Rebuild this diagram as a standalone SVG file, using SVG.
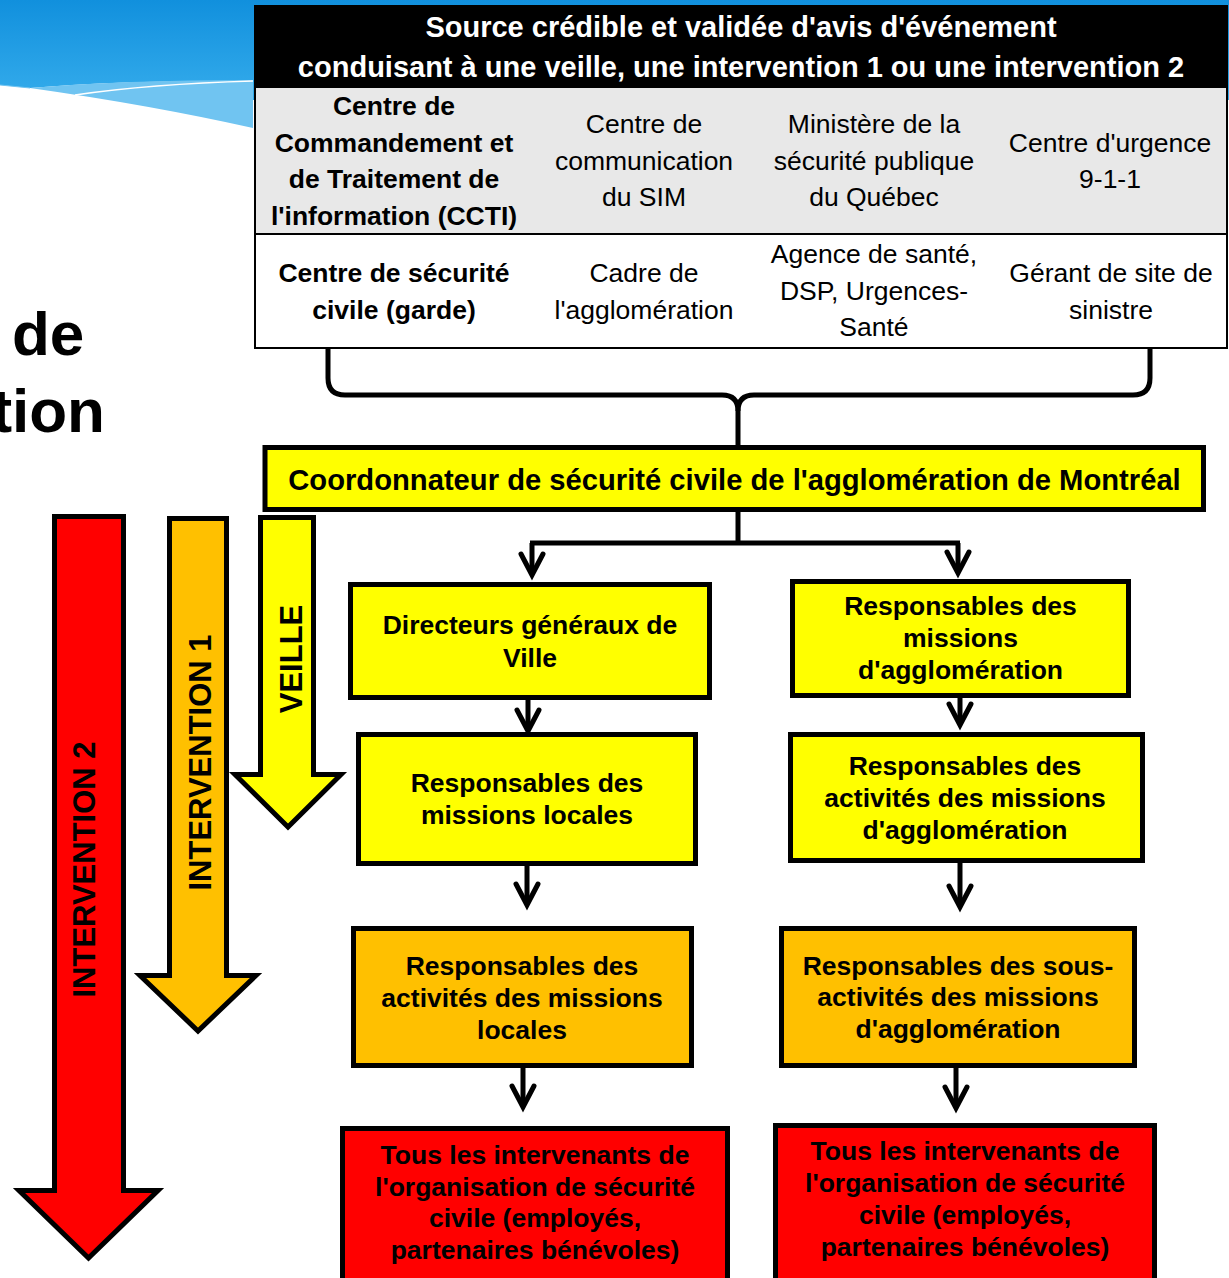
<svg xmlns="http://www.w3.org/2000/svg" width="1229" height="1278" viewBox="0 0 1229 1278">
<defs>
<linearGradient id="bg" x1="0" y1="0" x2="0" y2="90" gradientUnits="userSpaceOnUse">
<stop offset="0" stop-color="#1190dd"/>
<stop offset="1" stop-color="#31a9ea"/>
</linearGradient>
<marker id="chev" markerUnits="userSpaceOnUse" viewBox="-30 -16 40 32" refX="0" refY="0" markerWidth="40" markerHeight="32" orient="auto" overflow="visible">
<path d="M-21,-11 L0,0 L-21,11" fill="none" stroke="#000" stroke-width="5" stroke-linecap="round" stroke-linejoin="miter"/>
</marker>
<style>
text{font-family:"Liberation Sans",Arial,sans-serif;text-anchor:middle;fill:#000}
.hdr{font-size:29px;font-weight:bold;fill:#fff}
.tb{font-size:26.5px;font-weight:bold}
.tr{font-size:26.5px}
.bx{font-size:26.5px;font-weight:bold}
.co{font-size:29.2px;font-weight:bold}
.big{font-size:31px;font-weight:bold}
.ttl{font-size:62px;font-weight:bold}
.box{stroke:#000;stroke-width:5}
.y{fill:#ffff00}
.o{fill:#ffc000}
.r{fill:#ff0000}
.conn{fill:none;stroke:#000;stroke-width:5}
</style>
</defs>

<g id="background">
<path d="M0,0 H1229 V100 H253 V81 Q120,80 30,88 L0,85 Z" fill="url(#bg)"/>
<path d="M30,88 Q120,80 253,80 V128 Q150,105 30,88 Z" fill="#70c4f1"/>
<path d="M0,85 L30,88" stroke="#70c4f1" stroke-width="1"/>
<path d="M75,95 Q150,84 253,81" fill="none" stroke="#fff" stroke-width="1.5"/>
<text class="ttl" x="12" y="355" style="text-anchor:start">de</text>
<text class="ttl" x="105" y="432" style="text-anchor:end">tion</text>
</g>

<g id="sources-table">
<rect x="255" y="6" width="972" height="342" fill="#fff" stroke="#000" stroke-width="2"/>
<rect x="255" y="6" width="972" height="82" fill="#000"/>
<rect x="256" y="88" width="970" height="146" fill="#e8e8e8"/>
<line x1="255" y1="234" x2="1227" y2="234" stroke="#000" stroke-width="2"/>
<text class="hdr" x="741" y="37">Source crédible et validée d'avis d'événement</text>
<text class="hdr" x="741" y="77">conduisant à une veille, une intervention 1 ou une intervention 2</text>
<g id="cell-ccti">
<text class="tb" x="394" y="115">Centre de</text>
<text class="tb" x="394" y="151.5">Commandement et</text>
<text class="tb" x="394" y="188">de Traitement de</text>
<text class="tb" x="394" y="224.5">l'information (CCTI)</text>
</g>
<g id="cell-sim">
<text class="tr" x="644" y="133">Centre de</text>
<text class="tr" x="644" y="169.5">communication</text>
<text class="tr" x="644" y="206">du SIM</text>
</g>
<g id="cell-msp">
<text class="tr" x="874" y="133">Ministère de la</text>
<text class="tr" x="874" y="169.5">sécurité publique</text>
<text class="tr" x="874" y="206">du Québec</text>
</g>
<g id="cell-911">
<text class="tr" x="1110" y="151.5">Centre d'urgence</text>
<text class="tr" x="1110" y="188">9-1-1</text>
</g>
<g id="cell-csc">
<text class="tb" x="394" y="282">Centre de sécurité</text>
<text class="tb" x="394" y="318.5">civile (garde)</text>
</g>
<g id="cell-cadre">
<text class="tr" x="644" y="282">Cadre de</text>
<text class="tr" x="644" y="318.5">l'agglomération</text>
</g>
<g id="cell-agence">
<text class="tr" x="874" y="263">Agence de santé,</text>
<text class="tr" x="874" y="299.5">DSP, Urgences-</text>
<text class="tr" x="874" y="336">Santé</text>
</g>
<g id="cell-gerant">
<text class="tr" x="1111" y="282">Gérant de site de</text>
<text class="tr" x="1111" y="318.5">sinistre</text>
</g>
</g>

<g id="arrow-intervention2">
<polygon class="box r" points="54.5,516.5 123.5,516.5 123.5,1190.5 158,1190.5 88.5,1258 19,1190.5 54.5,1190.5"/>
<text class="big" transform="translate(95,869.5) rotate(-90)">INTERVENTION 2</text>
</g>
<g id="arrow-intervention1">
<polygon class="box o" points="169.5,518.5 226.5,518.5 226.5,975.5 256,975.5 198,1031 140,975.5 169.5,975.5"/>
<text class="big" transform="translate(211,762.5) rotate(-90)">INTERVENTION 1</text>
</g>
<g id="arrow-veille">
<polygon class="box y" points="260.5,517.5 313.5,517.5 313.5,774.5 341,774.5 288,827 235,774.5 260.5,774.5"/>
<text class="big" transform="translate(302,659) rotate(-90)">VEILLE</text>
</g>

<g id="connectors">
<path class="conn" d="M328,347 V378 Q328,395 345,395 H722 Q738,395 738,411 V447"/>
<path class="conn" d="M1150,347 V378 Q1150,395 1133,395 H754 Q738,395 738,411"/>
<path class="conn" d="M738,510 V543"/>
<path class="conn" d="M530,543 H960"/>
<path class="conn" d="M532,543 V575" marker-end="url(#chev)"/>
<path class="conn" d="M958,543 V573" marker-end="url(#chev)"/>
<path class="conn" d="M528,698 V731" marker-end="url(#chev)"/>
<path class="conn" d="M527,864 V905" marker-end="url(#chev)"/>
<path class="conn" d="M523,1066 V1107" marker-end="url(#chev)"/>
<path class="conn" d="M960,696 V725" marker-end="url(#chev)"/>
<path class="conn" d="M960,861 V907" marker-end="url(#chev)"/>
<path class="conn" d="M956,1066 V1108" marker-end="url(#chev)"/>
</g>

<g id="coordonnateur">
<rect class="box y" x="265" y="447.5" width="938.5" height="62"/>
<text class="co" x="734.5" y="490">Coordonnateur de sécurité civile de l'agglomération de Montréal</text>
</g>

<g id="directeurs">
<rect class="box y" x="350.5" y="584.5" width="359" height="113"/>
<text class="bx" x="530" y="634">Directeurs généraux de</text>
<text class="bx" x="530" y="666.5">Ville</text>
</g>
<g id="missions-locales">
<rect class="box y" x="358.5" y="734.5" width="337" height="129"/>
<text class="bx" x="527" y="792">Responsables des</text>
<text class="bx" x="527" y="824">missions locales</text>
</g>
<g id="activites-locales">
<rect class="box o" x="353.5" y="928.5" width="338" height="137"/>
<text class="bx" x="522" y="974.5">Responsables des</text>
<text class="bx" x="522" y="1006.5">activités des missions</text>
<text class="bx" x="522" y="1038.5">locales</text>
</g>
<g id="intervenants-gauche">
<rect class="box r" x="342.5" y="1128.5" width="385" height="170"/>
<text class="bx" x="535" y="1163.5">Tous les intervenants de</text>
<text class="bx" x="535" y="1195.5">l'organisation de sécurité</text>
<text class="bx" x="535" y="1227">civile (employés,</text>
<text class="bx" x="535" y="1259">partenaires bénévoles)</text>
</g>

<g id="missions-agglo">
<rect class="box y" x="792.5" y="581.5" width="336" height="114"/>
<text class="bx" x="960.5" y="615">Responsables des</text>
<text class="bx" x="960.5" y="647">missions</text>
<text class="bx" x="960.5" y="679">d'agglomération</text>
</g>
<g id="activites-agglo">
<rect class="box y" x="790.5" y="734.5" width="352" height="126"/>
<text class="bx" x="965" y="775">Responsables des</text>
<text class="bx" x="965" y="807">activités des missions</text>
<text class="bx" x="965" y="839">d'agglomération</text>
</g>
<g id="sous-activites-agglo">
<rect class="box o" x="781.5" y="928.5" width="353" height="137"/>
<text class="bx" x="958" y="974.5">Responsables des sous-</text>
<text class="bx" x="958" y="1006">activités des missions</text>
<text class="bx" x="958" y="1037.5">d'agglomération</text>
</g>
<g id="intervenants-droite">
<rect class="box r" x="775.5" y="1125.5" width="379" height="170"/>
<text class="bx" x="965" y="1160">Tous les intervenants de</text>
<text class="bx" x="965" y="1192">l'organisation de sécurité</text>
<text class="bx" x="965" y="1223.5">civile (employés,</text>
<text class="bx" x="965" y="1255.5">partenaires bénévoles)</text>
</g>
</svg>
